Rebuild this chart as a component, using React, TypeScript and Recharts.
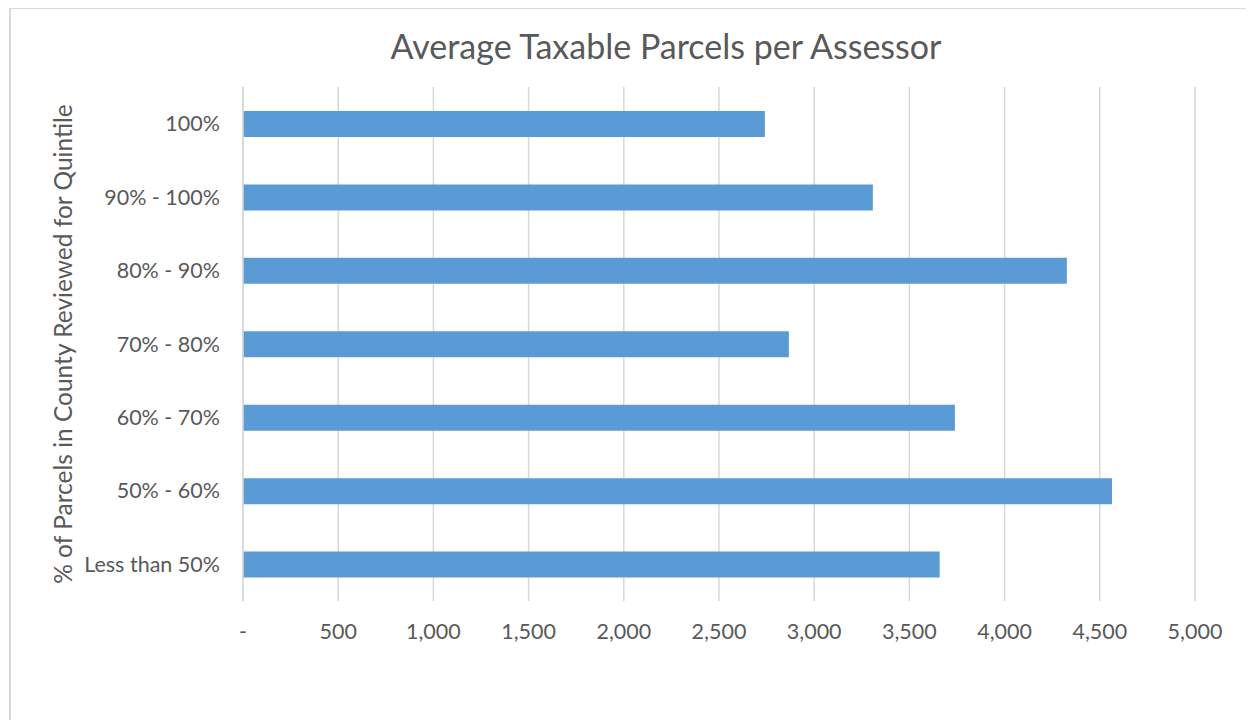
import { BarChart, Bar, XAxis, YAxis, CartesianGrid } from "recharts";

const quintiles = [
  "100%",
  "90% - 100%",
  "80% - 90%",
  "70% - 80%",
  "60% - 70%",
  "50% - 60%",
  "Less than 50%",
];
const avgParcels = [2741, 3308, 4327, 2867, 3739, 4564, 3659];
const xTicks = [0, 500, 1000, 1500, 2000, 2500, 3000, 3500, 4000, 4500, 5000];

const data = quintiles.map((q, i) => ({ quintile: q, parcels: avgParcels[i] }));

const FONT = "Lato, 'Open Sans', sans-serif";
const TEXT = "#595959";
const GRID = "#d9d9d9";

const fmt = (v: number) => (v === 0 ? "-" : v.toLocaleString("en-US"));

const AxisTitle = (props: any) => {
  const { viewBox } = props;
  const x = viewBox.x + 62;
  const y = viewBox.y + viewBox.height / 2;
  return (
    <text
      x={x}
      y={y}
      transform={`rotate(-90, ${x}, ${y})`}
      textAnchor="middle"
      dominantBaseline="central"
      fill={TEXT}
      fontSize={24.5}
      fontFamily={FONT}
    >
      % of Parcels in County Reviewed for Quintile
    </text>
  );
};

export default function App() {
  return (
    <div style={{ position: "relative", width: 1246, height: 712, overflow: "visible" }}>
      <div
        style={{
          position: "absolute",
          left: 1,
          top: -1,
          width: 1300,
          height: 760,
          border: `2px solid ${GRID}`,
          boxSizing: "border-box",
        }}
      />
      <div
        style={{
          position: "absolute",
          left: 658,
          top: 18,
          transform: "translateX(-50%)",
          whiteSpace: "nowrap",
          fontFamily: FONT,
          fontSize: 34,
          lineHeight: "40px",
          color: TEXT,
        }}
      >
        Average Taxable Parcels per Assessor
      </div>
      <div style={{ position: "absolute", left: -8, top: -8 }}>
        <BarChart
          width={1254}
          height={728}
          data={data}
          layout="vertical"
          margin={{ top: 87, right: 59, bottom: 0, left: 0 }}
        >
          <CartesianGrid horizontal={false} stroke={GRID} strokeWidth={1.5} />
          <XAxis
            type="number"
            domain={[0, 5000]}
            ticks={xTicks}
            tickFormatter={fmt}
            axisLine={false}
            tickLine={false}
            tickMargin={17}
            height={127}
            tick={{ fill: TEXT, fontSize: 21.5, fontFamily: FONT }}
          />
          <YAxis
            type="category"
            dataKey="quintile"
            width={243}
            axisLine={{ stroke: GRID, strokeWidth: 1.5 }}
            tickLine={false}
            tickMargin={17}
            tick={{ fill: TEXT, fontSize: 21.5, fontFamily: FONT }}
            label={{ content: AxisTitle }}
          />
          <Bar dataKey="parcels" fill="#5b9bd5" barSize={26} isAnimationActive={false} />
        </BarChart>
      </div>
    </div>
  );
}
